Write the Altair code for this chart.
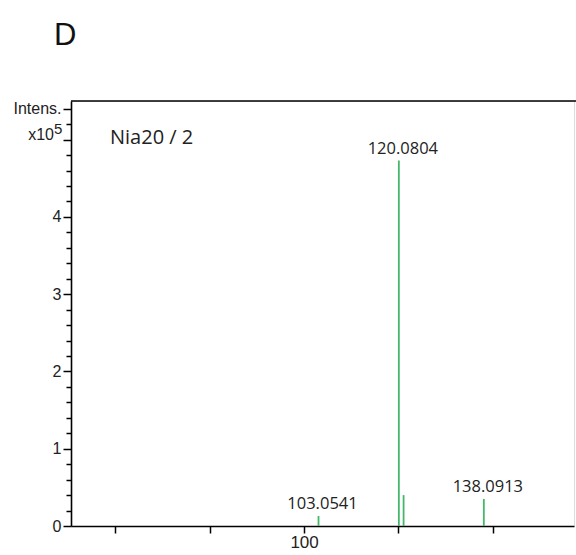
import altair as alt
import pandas as pd

# Centroided peaks: m/z and intensity (x10^5 counts)
mz = [103.0541, 120.0804, 121.0837, 138.0913]
intensity = [0.13, 4.73, 0.40, 0.35]
peak_labels = ["103.0541", "120.0804", "", "138.0913"]

panel_letter = ["D"]
sample_name = ["Nia20 / 2"]

x_ticks = [60, 80, 100, 120, 140]
y_ticks = [round(i * 0.2, 1) for i in range(28)]  # minor every 0.2, up to 5.4

W, H = 503, 425
GREEN = "#45b76a"
FONT_AX = "Liberation Sans"
FONT_TXT = "Open Sans"

peaks = pd.DataFrame({"mz": mz, "intensity": intensity, "label": peak_labels})

x_scale = alt.Scale(domain=[50.6, 157.2], nice=False, zero=False)
y_scale = alt.Scale(domain=[0, 5.5], nice=False)

x_axis = alt.Axis(
    values=x_ticks,
    tickCount=len(x_ticks),
    labelExpr="datum.value == 100 ? '100' : ''",
    title=None,
    grid=False,
    tickSize=7,
    tickWidth=1.5,
    tickColor="black",
    domainColor="black",
    domainWidth=1.6,
    labelFont=FONT_AX,
    labelFontSize=17,
    labelColor="#222",
    labelPadding=1,
)

y_axis = alt.Axis(
    values=y_ticks,
    tickCount=len(y_ticks) + 2,
    labelExpr=(
        "datum.value == 5.4 ? 'Intens.' : datum.value == 5 ? '' : "
        "(abs(datum.value - round(datum.value)) < 1e-6 ? '' + round(datum.value) : '')"
    ),
    title=None,
    grid=False,
    tickSize={
        "condition": {
            "test": "abs(datum.value - round(datum.value)) < 1e-6 || datum.value == 5.4",
            "value": 8,
        },
        "value": 5,
    },
    tickWidth=1.5,
    tickColor="black",
    domainColor="black",
    domainWidth=1.6,
    labelFont=FONT_AX,
    labelFontSize=16,
    labelColor="#222",
    labelPadding=2,
    labelOverlap=False,
)

base = alt.Chart(peaks)

sticks = base.mark_rule(color=GREEN, strokeWidth=1.8).encode(
    x=alt.X("mz:Q", scale=x_scale, axis=x_axis),
    y=alt.Y("intensity:Q", scale=y_scale, axis=y_axis),
    y2=alt.datum(0),
)

labels = base.mark_text(
    font=FONT_TXT, fontSize=16.5, color="#222", baseline="bottom", dx=4, dy=-4
).encode(
    x=alt.X("mz:Q", scale=x_scale),
    y=alt.Y("intensity:Q", scale=y_scale),
    text="label:N",
)

# unit label "x10^5" beside the 5 tick, with a raised exponent
unit_df = pd.DataFrame({"v": [5.0], "base": ["x10"], "exp": ["5"]})
unit_base = alt.Chart(unit_df).mark_text(
    font=FONT_AX, fontSize=16, color="#222", align="right", baseline="alphabetic", clip=False
).encode(x=alt.value(-17), y=alt.Y("v:Q", scale=y_scale), text="base:N")
unit_exp = alt.Chart(unit_df).mark_text(
    font=FONT_AX, fontSize=15, color="#222", align="left", baseline="alphabetic",
    dy=-6, clip=False
).encode(x=alt.value(-17), y=alt.Y("v:Q", scale=y_scale), text="exp:N")

# top frame line running to the right edge
top_line = alt.Chart(pd.DataFrame({"k": [0]})).mark_rule(
    color="black", strokeWidth=1.6, clip=False
).encode(x=alt.value(0), x2=alt.value(W + 2), y=alt.value(0))

name_text = alt.Chart(pd.DataFrame({"t": sample_name})).mark_text(
    font=FONT_TXT, fontSize=20, color="#222", align="left", baseline="middle"
).encode(x=alt.value(39), y=alt.value(37), text="t:N")

letter = alt.Chart(pd.DataFrame({"t": panel_letter})).mark_text(
    font=FONT_AX, fontSize=31, color="#111", align="left", baseline="alphabetic", clip=False
).encode(x=alt.value(-17), y=alt.value(-56), text="t:N")

chart = (
    alt.layer(sticks, labels, unit_base, unit_exp, top_line, name_text, letter)
    .properties(
        width=W,
        height=H,
        autosize=alt.AutoSizeParams(type="none"),
        padding={"left": 71, "top": 101, "right": 2, "bottom": 29},
    )
    .configure_view(stroke="transparent", strokeWidth=0)
    .configure(background="white")
)

chart.save("out.html", embed_options={"renderer": "svg", "actions": False})
